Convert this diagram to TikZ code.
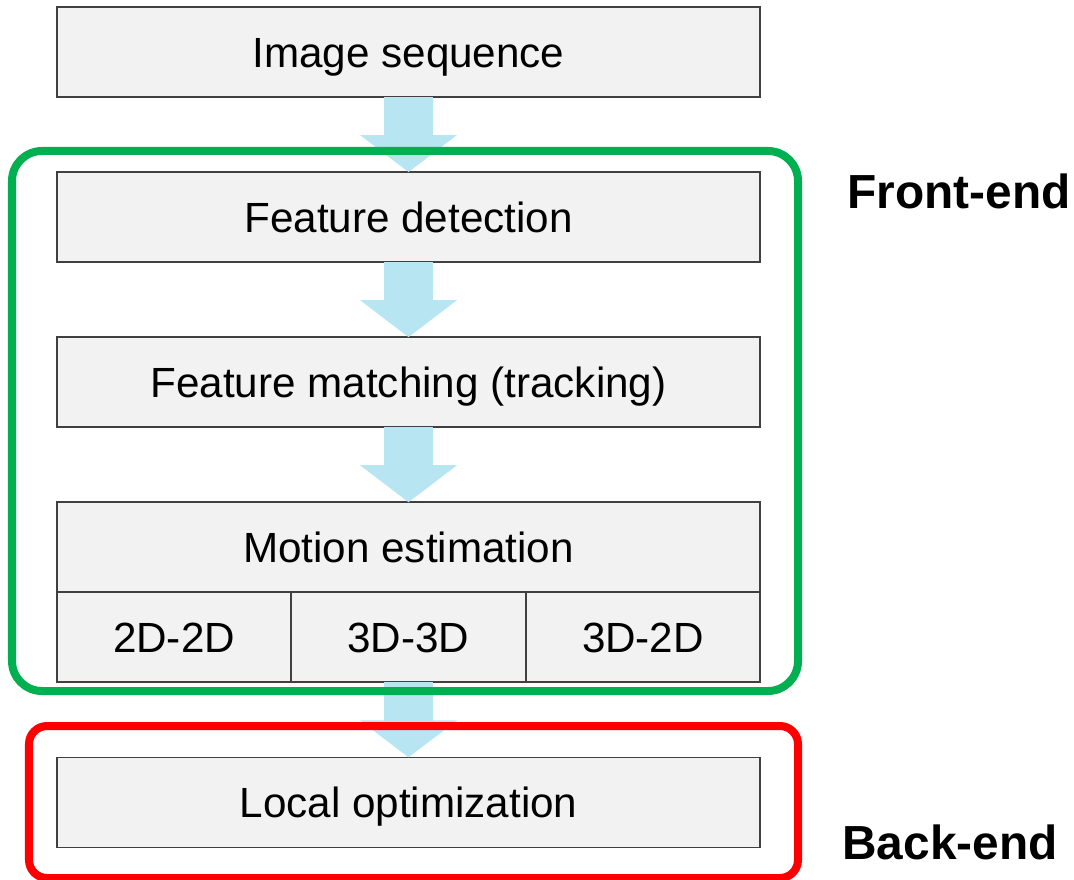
\documentclass[tikz,border=0pt]{standalone}
\usepackage{fontspec}
\setmainfont{Liberation Sans}
\usepackage{tikz}
\usetikzlibrary{arrows.meta, positioning}

\definecolor{boxfill}{RGB}{242,242,242}
\definecolor{boxline}{RGB}{64,64,64}
\definecolor{flowblue}{RGB}{183,230,242}
\definecolor{frontgreen}{RGB}{0,176,80}
\definecolor{backred}{RGB}{255,0,0}

\begin{document}
\begin{tikzpicture}[
        x=0.01cm, y=-0.01cm,
        node distance=0.75cm,
        box/.style={draw=boxline, fill=boxfill, line width=0.5pt, outer sep=0pt, minimum width=7.03cm, minimum height=0.9cm, inner sep=0pt, text height=8.7pt, text depth=0pt, font=\fontsize{12}{14}\selectfont},
        cell/.style={box, minimum width=2.3433cm},
        flow/.style={flowblue, line width=0.48cm, -{Triangle[length=0.37cm, width=0.95cm]}},
        frame/.style={line width=0.08cm},
        lbl/.style={font=\fontsize{13.6}{16}\selectfont\bfseries}
      ]
      \useasboundingbox (0,0) rectangle (1074,880);
      \node[box] (img) at (408.5,52) {Image sequence};
      \node[box, below=of img]   (fdet) {Feature detection};
      \node[box, below=of fdet]  (fmat) {Feature matching (tracking)};
      \node[box, below=of fmat]  (mest) {Motion estimation};
      \node[cell, anchor=north west] (c22) at (mest.south west) {2D-2D};
      \node[cell, right=0pt of c22]  (c33) {3D-3D};
      \node[cell, right=0pt of c33]  (c32) {3D-2D};
      \node[box, below=of c33]   (lopt) {Local optimization};
      % arrows between stages
      \draw[flow] (img)  -- (fdet);
      \draw[flow] (fdet) -- (fmat);
      \draw[flow] (fmat) -- (mest);
      \draw[flow] (c33)  -- (lopt);
      % front-end and back-end frames
      \draw[frame, frontgreen, rounded corners=0.3cm] (12,151) rectangle (798,691);
      \draw[frame, backred, rounded corners=0.18cm] (29,726) rectangle (798,878);
      \node[lbl] (front) at (959,191) {Front-end};
      \node[lbl] (back)  at (950,842) {Back-end};
    \end{tikzpicture}
\end{document}
